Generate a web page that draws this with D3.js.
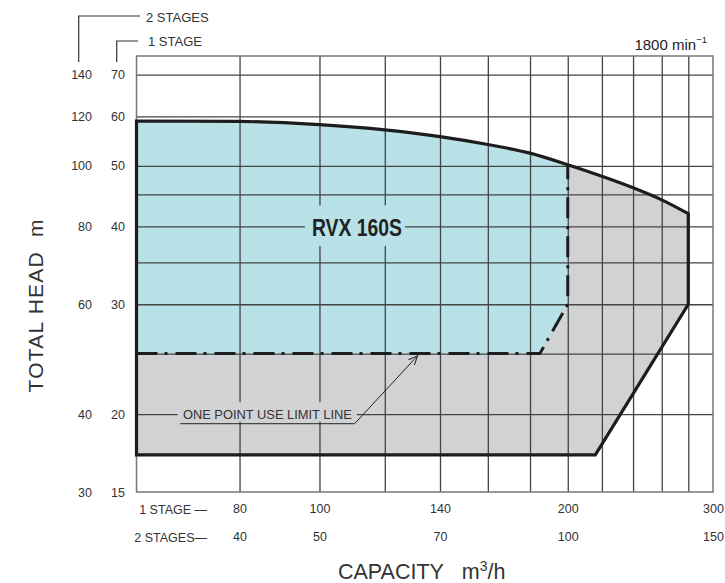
<!DOCTYPE html>
<html>
<head>
<meta charset="utf-8">
<script src="https://cdn.jsdelivr.net/npm/d3@7"></script>
<style>
  body { margin: 0; background: #fff; }
  svg { display: block; font-family: "Liberation Sans", Arial, Helvetica, sans-serif; }
  .tick text { fill: #333; font-size: 12.5px; }
</style>
</head>
<body>
<div id="chart"></div>
<script>
// capacity (1 stage, m3/h) and total head (1 stage, m)
const curveQ = [60, 80, 100, 120, 140, 160, 180, 200, 220, 240, 260, 280];
const curveH = [59, 58.9, 58.2, 57.1, 55.7, 54.1, 52.4, 50.2, 48.1, 46.1, 44.1, 41.9];
const rightQ = [280, 216];
const rightH = [30, 17.2];
const limitQ = [60, 185, 200, 200];
const limitH = [25, 25, 30, 50.2];

const qTicks1 = [80, 100, 140, 200, 300];
const qTicks2 = [40, 50, 70, 100, 150];
const hTicks1 = [15, 20, 30, 40, 50, 60, 70];
const hTicks2 = [30, 40, 60, 80, 100, 120, 140];
const qGrid = [80, 100, 120, 140, 160, 180, 200, 220, 240, 260, 280];
const hGrid = [20, 25, 30, 35, 40, 45, 50, 60, 70];

const width = 725, height = 583;

const svg = d3.select("#chart")
  .append("svg")
  .attr("width", width)
  .attr("height", height);

const x = d3.scaleLog().domain([60, 300]).range([136.5, 713]);
const y = d3.scaleLog().domain([15, 75]).range([492, 56]);
const x2 = d3.scaleLog().domain([30, 150]).range(x.range());
const y2 = d3.scaleLog().domain([30, 150]).range(y.range());

const line = d3.line().x(d => x(d[0])).y(d => y(d[1]));
const smooth = d3.line().x(d => x(d[0])).y(d => y(d[1])).curve(d3.curveMonotoneX);

const curve = curveQ.map((q, i) => [q, curveH[i]]);
const bottomH = rightH[rightH.length - 1];
const limit = limitQ.map((q, i) => [q, limitH[i]]);

// outer envelope: left edge, smooth top curve, right edge and bottom
const outerD = line([[60, bottomH]]) + "L" + smooth(curve).slice(1) +
  line(rightQ.map((q, i) => [q, rightH[i]])).replace("M", "L") + "Z";

svg.append("defs").append("clipPath")
  .attr("id", "env")
  .append("path")
  .attr("d", outerD);

svg.append("path")
  .attr("d", outerD)
  .attr("fill", "#d1d2d4");

// blue area: above the limit line, clipped by the envelope
const innerPts = [[60, 75], ...limit.slice().reverse().map(d => d[1] === 50.2 ? [d[0], 75] : d)];
svg.append("path")
  .attr("d", line(innerPts) + "Z")
  .attr("clip-path", "url(#env)")
  .attr("fill", "#b8e2e8");

// grid
const grid = svg.append("g").attr("class", "grid");
grid.append("g")
  .attr("transform", `translate(0,${y(15)})`)
  .call(d3.axisBottom(x).tickValues(qGrid).tickSize(-(y(15) - y(75))).tickFormat(""))
  .call(g => g.select(".domain").remove());
grid.append("g")
  .attr("transform", `translate(${x(60)},0)`)
  .call(d3.axisLeft(y).tickValues(hGrid).tickSize(-(x(300) - x(60))).tickFormat(""))
  .call(g => g.select(".domain").remove());
grid.selectAll("line").attr("stroke", "#444").attr("stroke-width", 1.3);

// label backgrounds hide the grid
svg.append("rect")
  .attr("x", 305).attr("y", y(43.2))
  .attr("width", 100).attr("height", y(37.2) - y(43.2))
  .attr("fill", "#b8e2e8");
svg.append("rect")
  .attr("x", x(67.3)).attr("y", y(20.9))
  .attr("width", x(111) - x(67.3)).attr("height", y(19.45) - y(20.9))
  .attr("fill", "#d1d2d4");

// frame
svg.append("rect")
  .attr("x", x(60)).attr("y", y(75))
  .attr("width", x(300) - x(60)).attr("height", y(15) - y(75))
  .attr("fill", "none")
  .attr("stroke", "#777")
  .attr("stroke-width", 1.5);

// boundary
svg.append("path")
  .attr("d", outerD)
  .attr("fill", "none")
  .attr("stroke", "#1d1d1d")
  .attr("stroke-width", 3.2)
  .attr("stroke-linejoin", "miter");

svg.append("path")
  .attr("d", line(limit))
  .attr("fill", "none")
  .attr("stroke", "#1d1d1d")
  .attr("stroke-width", 3)
  .attr("stroke-dasharray", "21,7,3,8");

// model label
svg.append("text")
  .attr("x", 312).attr("y", y(40) + 10)
  .attr("textLength", 90)
  .attr("lengthAdjust", "spacingAndGlyphs")
  .style("font-family", "'Liberation Sans Narrow', 'Arial Narrow', 'Liberation Sans', sans-serif")
  .style("font-weight", "bold")
  .style("font-size", "23px")
  .attr("fill", "#222")
  .text("RVX 160S");

// one point use limit line note
svg.select("defs").append("marker")
  .attr("id", "arrow")
  .attr("viewBox", "0 0 10 10")
  .attr("refX", 9).attr("refY", 5)
  .attr("markerWidth", 10).attr("markerHeight", 10)
  .attr("markerUnits", "userSpaceOnUse")
  .attr("orient", "auto")
  .append("path")
  .attr("d", "M0,1 L9,5 L0,9")
  .attr("fill", "none")
  .attr("stroke", "#222")
  .attr("stroke-width", 1);

const leader = [[67.8, 19.3], [110.3, 19.3], [131.5, 24.8]];
svg.append("path")
  .attr("d", line(leader))
  .attr("fill", "none")
  .attr("stroke", "#222")
  .attr("stroke-width", 1)
  .attr("marker-end", "url(#arrow)");

svg.append("text")
  .attr("x", x(68.3)).attr("y", y(20) + 4.5)
  .attr("textLength", 169)
  .attr("lengthAdjust", "spacingAndGlyphs")
  .style("font-size", "12.5px")
  .attr("fill", "#333")
  .text("ONE POINT USE LIMIT LINE");

// y tick labels
svg.append("g")
  .attr("transform", "translate(125,0)")
  .call(d3.axisLeft(y).tickValues(hTicks1).tickSize(0).tickPadding(0).tickFormat(d3.format("d")))
  .call(g => g.select(".domain").remove());
svg.append("g")
  .attr("transform", "translate(92,0)")
  .call(d3.axisLeft(y2).tickValues(hTicks2).tickSize(0).tickPadding(0).tickFormat(d3.format("d")))
  .call(g => g.select(".domain").remove());

// x tick labels
svg.append("g")
  .attr("transform", "translate(0,504)")
  .call(d3.axisBottom(x).tickValues(qTicks1).tickSize(0).tickPadding(0).tickFormat(d3.format("d")))
  .call(g => g.select(".domain").remove());
svg.append("g")
  .attr("transform", "translate(0,532)")
  .call(d3.axisBottom(x2).tickValues(qTicks2).tickSize(0).tickPadding(0).tickFormat(d3.format("d")))
  .call(g => g.select(".domain").remove());

svg.selectAll(".tick text").style("font-family", "'Liberation Sans', Arial, sans-serif");

svg.append("text")
  .attr("x", 207).attr("y", 513.5)
  .attr("text-anchor", "end")
  .style("font-size", "12.5px").attr("fill", "#333")
  .text("1 STAGE \u2014");
svg.append("text")
  .attr("x", 207).attr("y", 541.5)
  .attr("text-anchor", "end")
  .style("font-size", "12.5px").attr("fill", "#333")
  .text("2 STAGES\u2014");

// stage brackets above the y labels
svg.append("path")
  .attr("d", "M78.7,62V16H140M116.7,62V41H138")
  .attr("fill", "none")
  .attr("stroke", "#333")
  .attr("stroke-width", 1.2);
svg.append("text")
  .attr("x", 146).attr("y", 21.5)
  .style("font-size", "13px").attr("fill", "#333")
  .text("2 STAGES");
svg.append("text")
  .attr("x", 148).attr("y", 46)
  .style("font-size", "13px").attr("fill", "#333")
  .text("1 STAGE");

// speed
const speed = svg.append("text")
  .attr("x", 707).attr("y", 50)
  .attr("text-anchor", "end")
  .style("font-size", "15px").attr("fill", "#222");
speed.append("tspan").text("1800 min");
speed.append("tspan").attr("dy", -7).style("font-size", "9.5px").text("\u22121");

// axis titles
svg.append("text")
  .attr("transform", "translate(43,306) rotate(-90)")
  .attr("text-anchor", "middle")
  .attr("textLength", 173)
  .style("font-size", "21px").attr("fill", "#333")
  .text("TOTAL HEAD\u00a0\u00a0m");

const cap = svg.append("text")
  .attr("x", 338).attr("y", 579)
  .style("font-size", "21.5px").attr("fill", "#333");
cap.append("tspan").text("CAPACITY\u00a0\u00a0 m");
cap.append("tspan").attr("dy", -8).style("font-size", "14px").text("3");
cap.append("tspan").attr("dy", 8).text("/h");
</script>
</body>
</html>
